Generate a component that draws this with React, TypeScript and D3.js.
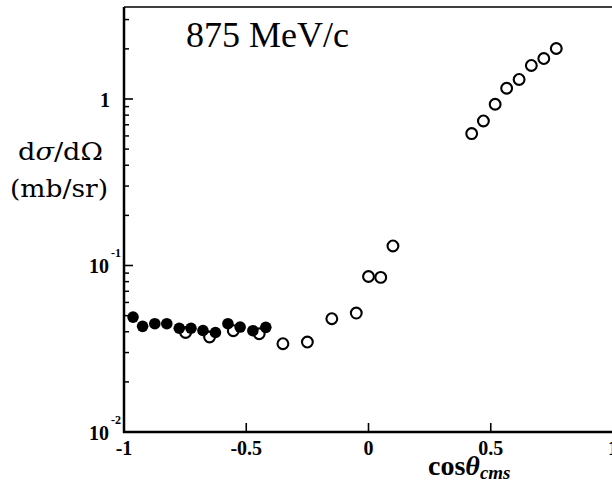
import React from "react";
import * as d3 from "d3";

// Filled points (cos θ, dσ/dΩ in mb/sr)
const filledCos = [-0.963, -0.924, -0.874, -0.825, -0.774, -0.726, -0.677, -0.626, -0.575, -0.525, -0.473, -0.42];
const filledVal = [0.049, 0.0431, 0.0447, 0.0447, 0.042, 0.042, 0.0407, 0.0396, 0.0447, 0.0427, 0.0406, 0.0425];

// Open points (cos θ, dσ/dΩ in mb/sr)
const openCos = [-0.748, -0.65, -0.553, -0.447, -0.35, -0.25, -0.15, -0.05, 0.0, 0.05, 0.1,
  0.422, 0.47, 0.518, 0.565, 0.616, 0.666, 0.717, 0.768];
const openVal = [0.0396, 0.0372, 0.0406, 0.0389, 0.0339, 0.0347, 0.0479, 0.0518, 0.0859, 0.0848, 0.131,
  0.62, 0.738, 0.93, 1.16, 1.31, 1.59, 1.75, 2.01];

const xTicks = [-1, -0.5, 0, 0.5, 1];
const xTickLabels = ["-1", "-0.5", "0", "0.5", "1"];
const yDecades = [0.01, 0.1, 1];

const W = 612;
const H = 493;

export default function App() {
  const x = d3.scaleLinear().domain([-1, 1]).range([124, 613]);
  const y = d3.scaleLog().domain([0.01, 1]).range([432, 99]);
  const yTop = 7;
  const yMax = y.invert(yTop);

  const minor: number[] = [];
  for (const dec of [0.01, 0.1, 1]) {
    for (let k = 2; k <= 9; k++) {
      const v = dec * k;
      if (v < yMax) minor.push(v);
    }
  }

  const serif = "'Liberation Serif', 'Times New Roman', serif";
  const wideSerif = "'DejaVu Serif', serif";
  const left = x(-1);
  const right = x(1);
  const bottom = y(0.01);

  return (
    <svg width={W} height={H} style={{ position: "absolute", left: 0, top: 0, background: "#fff" }}
      fontFamily={serif}>
      <rect x={0} y={0} width={W} height={H} fill="#fff" />
      {/* frame */}
      <line x1={left} x2={left} y1={yTop} y2={bottom + 1} stroke="#000" strokeWidth={2.5} />
      <line x1={left - 1} x2={right + 2} y1={bottom} y2={bottom} stroke="#000" strokeWidth={2.5} />
      <line x1={left} x2={right} y1={yTop} y2={yTop} stroke="#000" strokeWidth={1.5} />
      <line x1={right} x2={right} y1={yTop} y2={bottom} stroke="#000" strokeWidth={2} />

      {/* y ticks */}
      {yDecades.map((v) => (
        <line key={"yM" + v} x1={left} x2={left + 9} y1={y(v)} y2={y(v)} stroke="#000" strokeWidth={1.6} />
      ))}
      {minor.map((v) => (
        <line key={"ym" + v} x1={left} x2={left + 5} y1={y(v)} y2={y(v)} stroke="#000" strokeWidth={1.5} />
      ))}

      {/* x ticks */}
      {xTicks.map((v) => (
        <line key={"xM" + v} x1={x(v)} x2={x(v)} y1={bottom} y2={bottom - 9} stroke="#000" strokeWidth={1.6} />
      ))}

      {/* y tick labels */}
      <text x={105} y={106.5} fontSize={20} fontWeight="bold" textAnchor="middle">1</text>
      <text x={109} y={273} fontSize={20} fontWeight="bold" textAnchor="end">10</text>
      <text x={111} y={257} fontSize={12} fontWeight="bold">-1</text>
      <text x={109} y={440} fontSize={20} fontWeight="bold" textAnchor="end">10</text>
      <text x={111} y={424} fontSize={12} fontWeight="bold">-2</text>

      {/* x tick labels */}
      {xTicks.map((v, i) => (
        <text key={"xl" + v} x={x(v)} y={455} fontSize={20} fontWeight="bold" textAnchor="middle">
          {xTickLabels[i]}
        </text>
      ))}

      {/* axis titles */}
      <text x={18} y={160} fontSize={25} fontFamily={wideSerif} textLength={85} lengthAdjust="spacingAndGlyphs">
        d<tspan fontStyle="italic">σ</tspan>/dΩ
      </text>
      <text x={10} y={197} fontSize={25} fontFamily={wideSerif} textLength={98} lengthAdjust="spacingAndGlyphs">
        (mb/sr)
      </text>
      <text x={428} y={475} fontSize={28} fontWeight="bold">
        cos<tspan fontStyle="italic">θ</tspan>
        <tspan fontStyle="italic" fontSize={19} dy={4}>cms</tspan>
      </text>

      {/* title */}
      <text x={186} y={47} fontSize={36}>875 MeV/c</text>

      {/* data */}
      {openCos.map((c, i) => (
        <circle key={"o" + i} cx={x(c)} cy={y(openVal[i])} r={5.4} fill="#fff" stroke="#000" strokeWidth={2.1} />
      ))}
      {filledCos.map((c, i) => (
        <circle key={"f" + i} cx={x(c)} cy={y(filledVal[i])} r={5.8} fill="#000" />
      ))}
    </svg>
  );
}
